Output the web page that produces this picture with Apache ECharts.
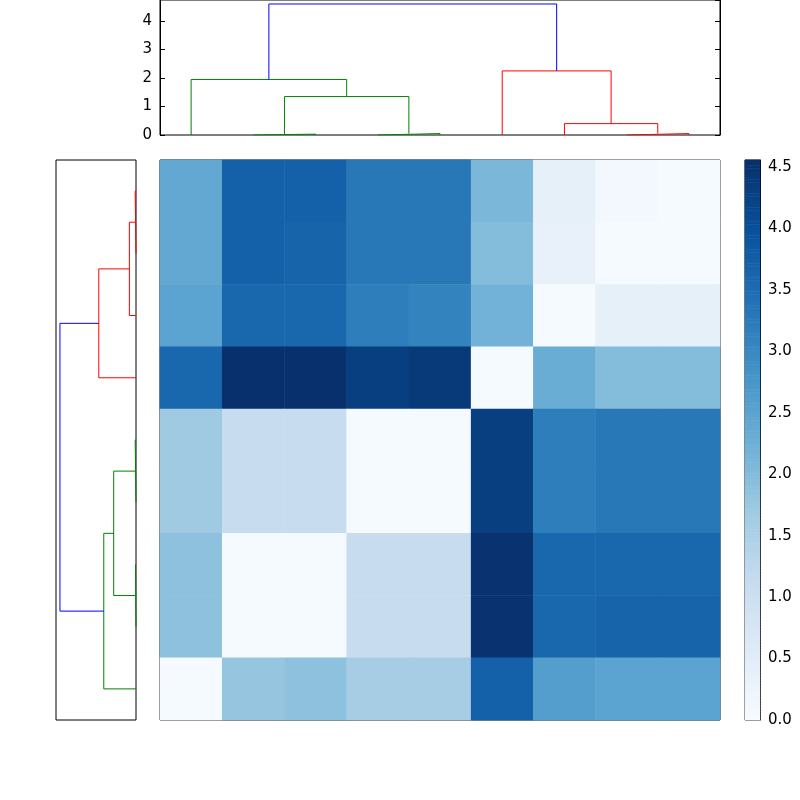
<!DOCTYPE html>
<html><head><meta charset="utf-8">
<script src="https://cdn.jsdelivr.net/npm/echarts@6/dist/echarts.min.js"></script>
<style>html,body{margin:0;background:#fff}#c{width:800px;height:800px}</style>
</head><body><div id="c"></div>
<script>
// leaf order 0..8 along the columns; rows listed top to bottom
var rowLeaves = [8, 7, 6, 5, 4, 3, 2, 1, 0];
var matrix = [
  [2.4, 3.7, 3.7, 3.3, 3.3, 2.1, 0.4, 0.1, 0.05],
  [2.4, 3.7, 3.65, 3.3, 3.3, 2.0, 0.35, 0.05, 0.05],
  [2.5, 3.6, 3.6, 3.2, 3.1, 2.2, 0.05, 0.4, 0.4],
  [3.6, 4.55, 4.55, 4.3, 4.4, 0.05, 2.3, 2.0, 2.0],
  [1.7, 1.1, 1.1, 0.05, 0.05, 4.3, 3.2, 3.3, 3.3],
  [1.7, 1.1, 1.1, 0.05, 0.05, 4.3, 3.2, 3.3, 3.3],
  [1.9, 0.05, 0.05, 1.1, 1.1, 4.5, 3.6, 3.6, 3.6],
  [1.9, 0.05, 0.05, 1.1, 1.1, 4.5, 3.6, 3.65, 3.65],
  [0.05, 1.8, 1.9, 1.6, 1.6, 3.7, 2.6, 2.5, 2.5]
];
// dendrogram links: [x-left, x-right (leaf units *10), height-left-child, height-right-child, merge height, colour]
var links = [
  [15, 25, 0, 0, 0.03, 'green'],
  [35, 45, 0, 0, 0.05, 'green'],
  [20, 40, 0.03, 0.05, 1.35, 'green'],
  [5, 30, 0, 1.35, 1.95, 'green'],
  [75, 85, 0, 0, 0.05, 'red'],
  [65, 80, 0, 0.05, 0.4, 'red'],
  [55, 72.5, 0, 0.4, 2.25, 'red'],
  [17.5, 63.75, 1.95, 2.25, 4.6, 'blue']
];
var cmax = 4.556;
var blues = ['#f7fbff','#deebf7','#c6dbef','#9ecae1','#6baed6','#4292c6','#2171b5','#08519c','#08306b'];

var heat = [];
matrix.forEach(function (row, r) {
  row.forEach(function (v, c) { heat.push([c, 8 - r, v]); });
});
var barN = 200, bar = [];
for (var i = 0; i < barN; i++) bar.push([0, i, (i + 0.5) / barN * cmax]);

function topPath(l) { return [[l[0], l[2]], [l[0], l[4]], [l[1], l[4]], [l[1], l[3]]]; }
// left dendrogram: leaf 0 at the bottom, height grows leftwards
function leftPath(l) { return [[l[2], l[0]], [l[4], l[0]], [l[4], l[1]], [l[3], l[1]]]; }

var font = 'DejaVu Sans';
var frame = { show: true, lineStyle: { color: '#000', width: 1 } };
var series = [];
links.forEach(function (l) {
  series.push({ type: 'line', xAxisIndex: 0, yAxisIndex: 0, data: topPath(l), symbol: 'none',
    lineStyle: { color: l[5], width: 1 }, silent: true, animation: false });
  series.push({ type: 'line', xAxisIndex: 1, yAxisIndex: 1, data: leftPath(l), symbol: 'none',
    lineStyle: { color: l[5], width: 1 }, silent: true, animation: false });
});
series.push({ type: 'heatmap', xAxisIndex: 2, yAxisIndex: 2, data: heat, animation: false });
series.push({ type: 'heatmap', xAxisIndex: 3, yAxisIndex: 3, data: bar, animation: false });

var chart = echarts.init(document.getElementById('c'));
chart.setOption({
  backgroundColor: '#fff',
  textStyle: { fontFamily: font },
  grid: [
    { left: 160, top: 0, width: 560, height: 135, show: true, borderColor: '#000', borderWidth: 1 },
    { left: 56, top: 160, width: 80, height: 560, show: true, borderColor: '#000', borderWidth: 1 },
    { left: 160, top: 160, width: 560, height: 560, show: true, borderColor: '#000', borderWidth: 1 },
    { left: 745, top: 160, width: 15, height: 560, show: true, borderColor: '#000', borderWidth: 1 }
  ],
  xAxis: [
    { gridIndex: 0, type: 'value', min: 0, max: 90, show: false },
    { gridIndex: 1, type: 'value', min: 0, max: 4.84, inverse: true, show: false },
    { gridIndex: 2, type: 'category', data: [0,1,2,3,4,5,6,7,8], show: false },
    { gridIndex: 3, type: 'category', data: [0], show: false }
  ],
  yAxis: [
    { gridIndex: 0, type: 'value', min: 0, max: 4.74, interval: 1,
      axisLine: frame, splitLine: { show: false },
      axisTick: { inside: true, length: 5, lineStyle: { color: '#000' } },
      axisLabel: { color: '#000', fontSize: 15, showMaxLabel: false, fontFamily: font } },
    { gridIndex: 1, type: 'value', min: 0, max: 90, show: false },
    { gridIndex: 2, type: 'category', data: [0,1,2,3,4,5,6,7,8], show: false },
    { gridIndex: 3, type: 'category', data: bar.map(function (d) { return d[1]; }), show: false },
    { gridIndex: 3, type: 'value', position: 'right', min: 0, max: cmax, interval: 0.5,
      axisLine: frame, splitLine: { show: false },
      axisTick: { inside: true, length: 4, lineStyle: { color: '#000' } },
      axisLabel: { color: '#000', fontSize: 15, fontFamily: font, showMaxLabel: false,
        formatter: function (v) { return v.toFixed(1); } } },
    { gridIndex: 0, type: 'value', position: 'right', min: 0, max: 4.74, interval: 1,
      axisLine: frame, splitLine: { show: false },
      axisTick: { inside: true, length: 5, lineStyle: { color: '#000' } },
      axisLabel: { show: false } }
  ],
  visualMap: { show: false, min: 0, max: cmax, seriesIndex: [series.length - 2, series.length - 1],
    inRange: { color: blues } },
  series: series
});
</script></body></html>
